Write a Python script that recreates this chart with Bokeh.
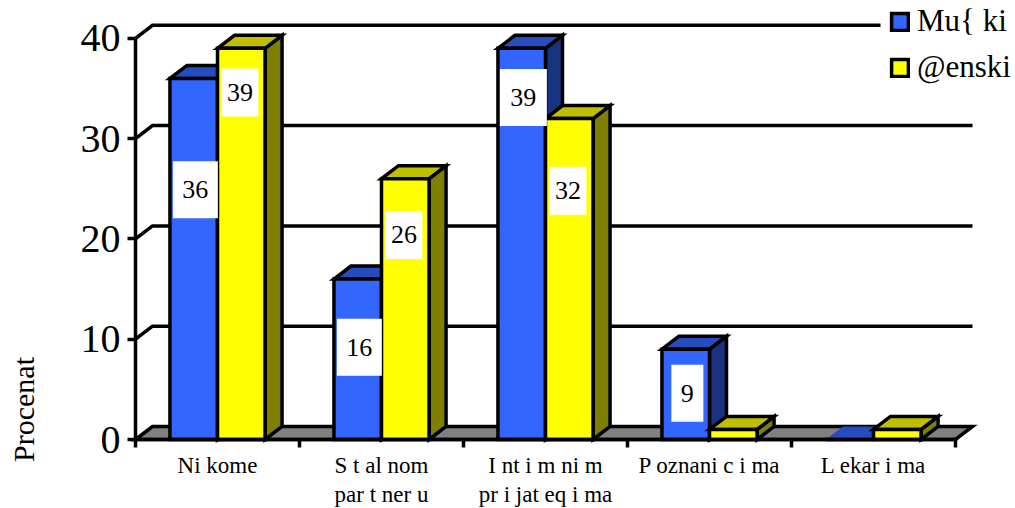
import math
from bokeh.plotting import figure
from bokeh.embed import file_html
from bokeh.resources import INLINE
from bokeh.core.properties import value
from bokeh.models import FixedTicker, Legend, LegendItem, Label, Range1d

# data
categories = [["Ni kome"], ["S t al nom", "par t ner u"], ["I nt i m ni m", "pr i jat eq i ma"],
              ["P oznani c i ma"], ["L ekar i ma"]]
muski = [36, 16, 39, 9, 0]
zenski = [39, 26, 32, 1, 1]
y_ticks = [0, 10, 20, 30, 40]
series_names = ["Mu{ ki", "@enski"]

# label box placement (value axis position of each box, box size in px)
label_cat_blue = [0, 1, 2, 3]
label_text_blue = ["36", "16", "39", "9"]
label_y_blue = [24.9, 9.2, 34.1, 4.6]
label_w_blue = [45, 45, 47, 32]
label_cat_yellow = [0, 1, 2]
label_text_yellow = ["39", "26", "32"]
label_y_yellow = [34.6, 20.4, 24.8]

FONT = "Liberation Serif"
W, H = 1015, 508
PX_X = 164.0
PX_Y = 10.03
BOTTOM = 439
LEFT = 135
DX = 17 / PX_X
DV = 13 / PX_Y
BAR = 0.29
LW = 3.5

p = figure(width=W, height=H, output_backend="svg", toolbar_location=None,
           x_range=Range1d(-LEFT / PX_X, (W - LEFT) / PX_X),
           y_range=Range1d((BOTTOM - H) / PX_Y, BOTTOM / PX_Y),
           min_border_left=0, min_border_right=0, min_border_top=0,
           min_border_bottom=0, outline_line_color=None,
           background_fill_color="white", border_fill_color="white")
p.grid.visible = False

# y axis
ax = p.yaxis[0]
ax.fixed_location = 0
ax.ticker = FixedTicker(ticks=y_ticks, minor_ticks=[])
ax.bounds = (0, 40)
ax.axis_line_color = "black"
ax.axis_line_width = LW
ax.major_tick_line_color = "black"
ax.major_tick_line_width = LW
ax.major_tick_out = 8
ax.major_tick_in = 0
ax.major_label_standoff = 7
ax.major_label_text_font = FONT
ax.major_label_text_font_size = "40px"
ax.major_label_text_color = "black"

# x axis: ticks between categories, labels at centres
xa = p.xaxis[0]
xa.fixed_location = 0
n = len(categories)
centers = [i + 0.5 for i in range(n)]
xa.ticker = FixedTicker(ticks=[], minor_ticks=list(range(n + 1)))
xa.bounds = (0, n)
xa.axis_line_color = "black"
xa.axis_line_width = LW
xa.major_tick_line_color = None
xa.minor_tick_line_color = "black"
xa.minor_tick_line_width = LW
xa.minor_tick_out = 8
xa.minor_tick_in = 0

for c, lines in zip(centers, categories):
    for k, t in enumerate(lines):
        p.add_layout(Label(x=c, y=43 - 29 * k, x_units="data", y_units="screen", text=t,
                           text_font=FONT, text_font_size="23px", text_align="center",
                           text_baseline="alphabetic", text_color="black"))

# floor
p.patch([0, DX, n + DX, n], [0, DV, DV, 0], fill_color="#808080",
        line_color="black", line_width=LW, line_join="miter")

# back wall and grid lines (the top one stops at the legend)
legend_edge = (880 - LEFT) / PX_X
wall_x = [[0, DX, legend_edge if v == y_ticks[-1] else n + DX] for v in y_ticks[1:]]
wall_y = [[v, v + DV, v + DV] for v in y_ticks[1:]]
p.multi_line(wall_x, wall_y, line_color="black", line_width=LW, line_join="miter")


def draw_series(vals, xs, front, top, side):
    alpha = [1 if v > 0 else 0 for v in vals]
    sx = [[x + BAR / 2, x + BAR / 2 + DX, x + BAR / 2 + DX, x + BAR / 2] for x in xs]
    sy = [[0, DV, v + DV, v] for v in vals]
    p.patches(sx, sy, fill_color=side, fill_alpha=alpha, line_color="black",
              line_alpha=alpha, line_width=LW, line_join="miter")
    tx = [[x - BAR / 2, x - BAR / 2 + DX, x + BAR / 2 + DX, x + BAR / 2] for x in xs]
    ty = [[v, v + DV, v + DV, v] for v in vals]
    p.patches(tx, ty, fill_color=top, line_color="black", line_alpha=alpha,
              line_width=LW, line_join="miter")
    return p.vbar(x=xs, top=vals, width=BAR, bottom=0, fill_color=front,
                  line_color="black", line_width=LW, line_join="miter")


blue_x = [c - BAR / 2 for c in centers]
yellow_x = [c + BAR / 2 for c in centers]
r_blue = draw_series(muski, blue_x, "#3366FF", "#264DBF", "#1A3380")
r_yellow = draw_series(zenski, yellow_x, "#FFFF00", "#BFBF00", "#808000")

# value labels
bx = [blue_x[i] + 0.01 for i in label_cat_blue]
p.rect(x=bx, y=label_y_blue, width=label_w_blue, height=57, width_units="screen",
       height_units="screen", fill_color="white", line_color=None)
yx = [yellow_x[i] - 0.008 for i in label_cat_yellow]
p.rect(x=yx, y=label_y_yellow, width=37, height=48, width_units="screen",
       height_units="screen", fill_color="white", line_color=None)
p.text(x=bx + yx, y=label_y_blue + label_y_yellow, text=label_text_blue + label_text_yellow,
       text_font=value(FONT), text_font_size="26px", text_align="center",
       text_baseline="middle", text_color="black")

# y title
p.add_layout(Label(x=23, y=H - 409, x_units="screen", y_units="screen", text="Procenat",
                   angle=math.pi / 2, text_font=FONT, text_font_size="30px",
                   text_align="center", text_baseline="middle", text_color="black"))

# legend
legend = Legend(items=[LegendItem(label=series_names[0], renderers=[r_blue]),
                       LegendItem(label=series_names[1], renderers=[r_yellow])],
                location=(889, H - (BOTTOM - 354)), orientation="vertical",
                glyph_width=21, glyph_height=21, label_standoff=7, spacing=10,
                padding=0, margin=0, border_line_color=None, background_fill_alpha=0,
                label_text_font=FONT, label_text_font_size="31px", label_text_color="black")
p.add_layout(legend)

open("out.html", "w").write(file_html(p, INLINE))
